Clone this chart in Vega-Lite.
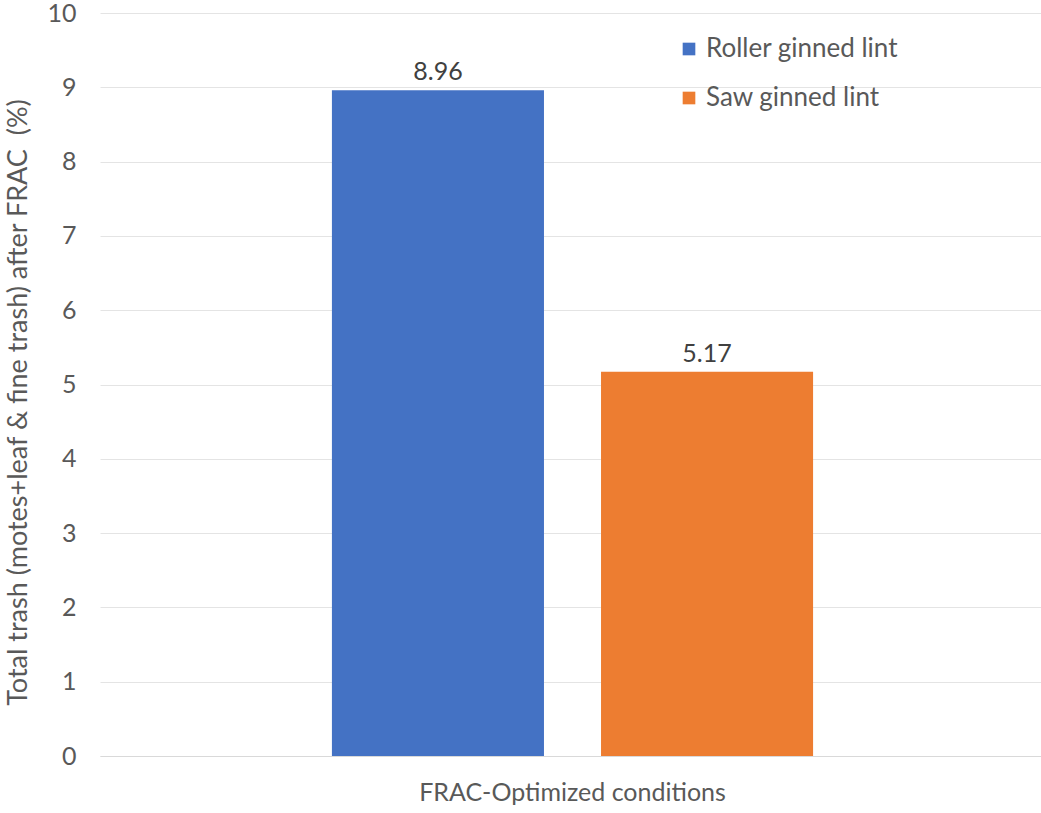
{
  "$schema": "https://vega.github.io/schema/vega-lite/v6.json",
  "width": 945,
  "height": 743,
  "autosize": {"type": "none"},
  "padding": {"left": 100, "top": 13, "right": 0, "bottom": 57},
  "background": "white",
  "config": {
    "font": "Lato",
    "view": {"stroke": null},
    "axis": {"labelFont": "Lato", "titleFont": "Lato", "labelColor": "#595959", "titleColor": "#595959", "labelLimit": 0, "titleLimit": 0}
  },
  "data": {
    "values": [
      {"condition": "FRAC-Optimized conditions", "lint": "Roller ginned lint", "trash": 8.96},
      {"condition": "FRAC-Optimized conditions", "lint": "Saw ginned lint", "trash": 5.17}
    ]
  },
  "encoding": {
    "x": {
      "field": "condition",
      "type": "nominal",
      "scale": {"paddingInner": 0, "paddingOuter": 0.482},
      "axis": {
        "title": null,
        "labelAngle": 0,
        "labelFontSize": 25,
        "labelPadding": 24,
        "ticks": false,
        "domain": true,
        "domainColor": "#d9d9d9",
        "domainWidth": 1
      }
    },
    "xOffset": {
      "field": "lint",
      "type": "nominal",
      "scale": {"paddingInner": 0.212, "paddingOuter": 0}
    },
    "y": {
      "field": "trash",
      "type": "quantitative",
      "scale": {"domain": [0, 10], "nice": false},
      "axis": {
        "title": "Total trash (motes+leaf & fine trash) after FRAC\u00a0\u00a0(%)",
        "titleFontSize": 27,
        "titleFontWeight": "normal",
        "titlePadding": 14,
        "titleY": 389,
        "values": [0, 1, 2, 3, 4, 5, 6, 7, 8, 9, 10],
        "labelFontSize": 25,
        "labelPadding": 24,
        "ticks": false,
        "domain": false,
        "grid": true,
        "gridColor": "#e4e4e4",
        "gridWidth": 1
      }
    }
  },
  "layer": [
    {
      "mark": {"type": "bar"},
      "encoding": {
        "color": {
          "field": "lint",
          "type": "nominal",
          "scale": {"domain": ["Roller ginned lint", "Saw ginned lint"], "range": ["#4472C4", "#ED7D31"]},
          "legend": {
            "title": null,
            "orient": "none",
            "legendX": 576,
            "legendY": 23,
            "symbolType": "square",
            "symbolSize": 160,
            "symbolStrokeWidth": 0,
            "labelFontSize": 26,
            "labelColor": "#595959",
            "labelFont": "Lato",
            "labelLimit": 0,
            "rowPadding": 23,
            "labelOffset": 4
          }
        }
      }
    },
    {
      "mark": {"type": "text", "dy": -18, "fontSize": 25, "color": "#404040", "font": "Lato"},
      "encoding": {
        "text": {"field": "trash", "type": "quantitative", "format": ".2f"}
      }
    }
  ]
}
